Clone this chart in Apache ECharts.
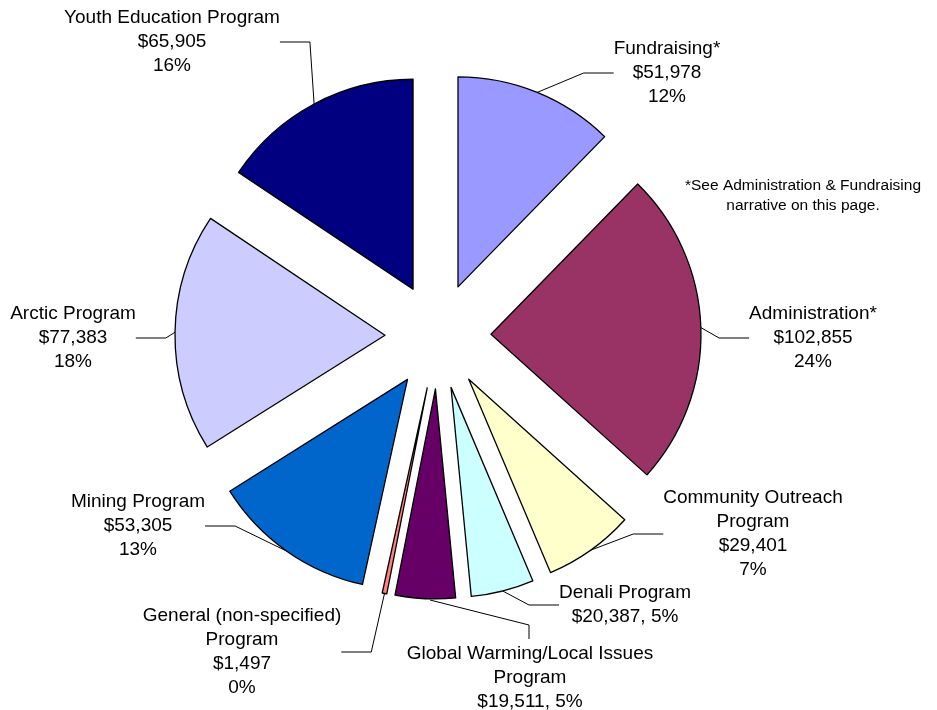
<html>
<head>
<meta charset="utf-8">
<script src="https://cdn.jsdelivr.net/npm/echarts@6/dist/echarts.min.js"></script>
<style>
  html, body { margin: 0; padding: 0; background: #fff; }
  #main { width: 937px; height: 710px; }
</style>
</head>
<body>
<div id="main"></div>
<script>
// slices, clockwise from 12 o'clock
var names = [
    'Fundraising*',
    'Administration*',
    'Community Outreach\nProgram',
    'Denali Program',
    'Global Warming/Local Issues\nProgram',
    'General (non-specified)\nProgram',
    'Mining Program',
    'Arctic Program',
    'Youth Education Program'
];
var values = [51978, 102855, 29401, 20387, 19511, 1497, 53305, 77383, 65905];
// value and percent on one line for these
var oneLine = [false, false, false, true, true, false, false, false, false];
var footnote = '*See Administration & Fundraising\nnarrative on this page.';

var colors = ['#9999ff', '#993366', '#ffffcc', '#ccffff', '#660066',
              '#ff8080', '#0066cc', '#ccccff', '#000080'];
// label block centres
var labelPos = [
    [667, 73], [813, 338], [753, 534], [625, 605], [530, 678],
    [242, 652], [138, 526], [73, 338], [172, 42]
];
// the global warming leader drops onto the top of its label
var fixedLines = { 4: [[430, 600], [529, 625], [529, 639]] };
var cx = 438, cy = 336, R = 210, explode = 53;
var font = 'Liberation Sans, Arial, sans-serif';

var chart = echarts.init(document.getElementById('main'));

function money(v) {
    return '$' + v.toString().replace(/\B(?=(\d{3})+(?!\d))/g, ',');
}

var total = values.reduce(function (a, b) { return a + b; }, 0);

// one pie per slice so every slice can be pulled out along its own bisector
var series = [];
var acc = 0;
values.forEach(function (v, k) {
    var a0 = acc / total * Math.PI * 2;
    acc += v;
    var a1 = acc / total * Math.PI * 2;
    var mid = (a0 + a1) / 2;
    series.push({
        type: 'pie',
        silent: true,
        center: [cx + explode * Math.sin(mid), cy - explode * Math.cos(mid)],
        radius: R,
        startAngle: 90,
        clockwise: true,
        avoidLabelOverlap: false,
        emphasis: { disabled: true },
        label: {
            show: true,
            position: 'outside',
            color: '#000',
            fontFamily: font,
            fontSize: 19,
            lineHeight: 24,
            align: 'center',
            formatter: function (p) {
                var pct = Math.round(p.percent) + '%';
                var m = money(p.value);
                return oneLine[p.dataIndex]
                    ? p.name + '\n' + m + ', ' + pct
                    : p.name + '\n' + m + '\n' + pct;
            }
        },
        labelLine: {
            show: true,
            lineStyle: { color: '#000', width: 1 }
        },
        labelLayout: function (params) {
            var i = params.dataIndex;
            var pos = labelPos[i];
            var out = { x: pos[0], y: pos[1], align: 'center', verticalAlign: 'middle' };
            if (fixedLines[i]) out.labelLinePoints = fixedLines[i];
            return out;
        },
        data: names.map(function (n, i) {
            var on = i === k;
            return {
                name: n,
                value: values[i],
                itemStyle: on
                    ? { color: colors[i], borderColor: '#000', borderWidth: 1.3 }
                    : { color: 'rgba(0,0,0,0)', borderWidth: 0 },
                label: { show: on },
                labelLine: { show: on }
            };
        })
    });
});

chart.setOption({
    animation: false,
    graphic: [{
        type: 'text',
        x: 803,
        y: 196,
        style: {
            text: footnote,
            fontFamily: font,
            fontSize: 15.5,
            lineHeight: 20,
            fill: '#000',
            align: 'center',
            verticalAlign: 'middle'
        }
    }],
    series: series
});
</script>
</body>
</html>
